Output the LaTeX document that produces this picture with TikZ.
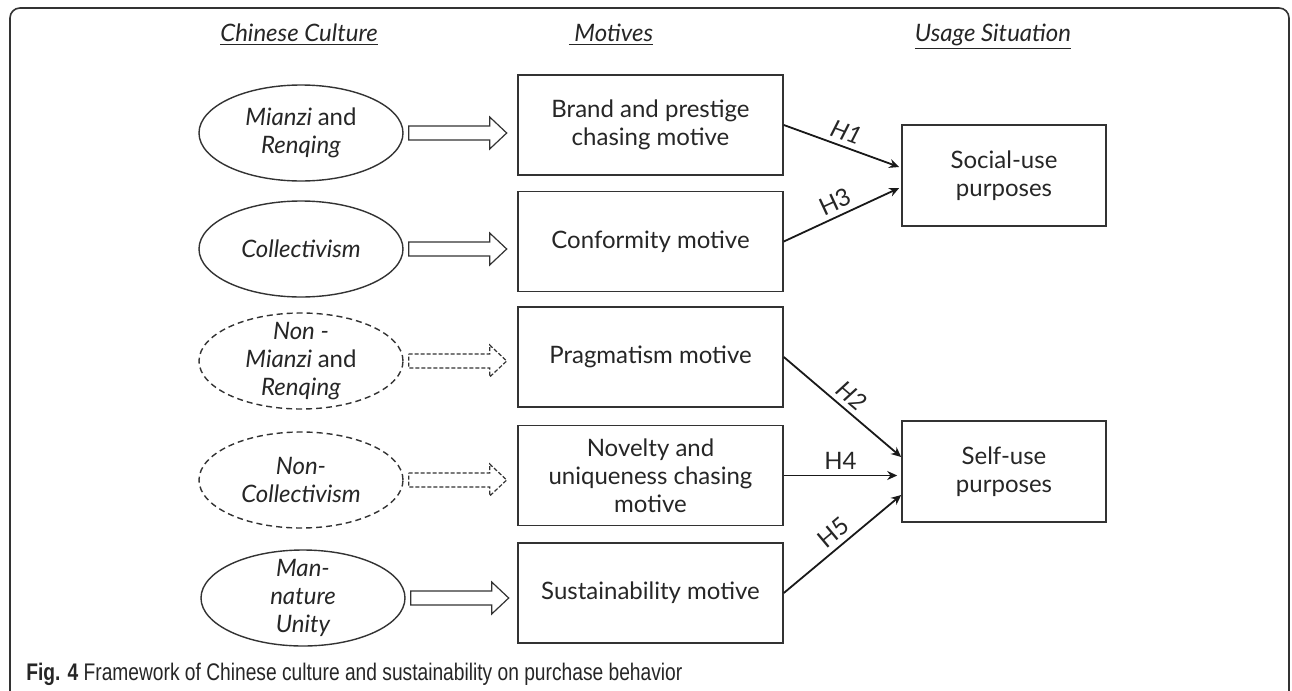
\documentclass[tikz,border=0pt]{standalone}
\usepackage{fontspec}
\setmainfont{Lato}
\newfontfamily\capfont[FakeStretch=0.8]{Liberation Sans}
\usetikzlibrary{arrows.meta,shapes.geometric,calc}

\begin{document}
\begin{tikzpicture}[x=0.5pt,y=-0.5pt,
	culture/.style={ellipse, draw=black!80, line width=0.7pt, minimum width=102pt, minimum height=48pt,
		inner xsep=0pt, inner ysep=-6pt, align=center, font=\fontsize{12}{14}\selectfont\itshape, text=black!85},
	nonculture/.style={culture, dash pattern=on 3pt off 2pt},
	motive/.style={rectangle, draw=black!80, line width=0.8pt, minimum width=132.5pt, minimum height=50pt,
		align=center, font=\fontsize{12}{14}\selectfont, text=black!85},
	usage/.style={motive, minimum width=102pt, minimum height=50.5pt},
	header/.style={anchor=base, font=\fontsize{12}{14}\selectfont\itshape, text=black!85},
	blockarrow/.style={draw=black!80, line width=0.6pt},
	hyp/.style={-{Stealth[length=5pt,width=4.5pt]}, line width=0.9pt, black!90},
	hlabel/.style={above=1.5pt, sloped, inner sep=1pt, font=\fontsize{12}{14}\selectfont, text=black!85}]
	% Page and frame
	\fill[white] (0,0) rectangle (1292,691);
	\useasboundingbox (0,0) rectangle (1292,691);
	\draw[black!80, line width=0.8pt, rounded corners=5pt] (10,8) rectangle (1289,730);
	% Column headers
	\node[header] (hculture) at (299,41) {\underline{Chinese Culture}};
	\node[header] (hmotive) at (611,41) {\underline{\ Motives}};
	\node[header] (husage) at (993,41) {\underline{Usage Situation}};
	% Chinese culture
	\node[culture] (c1) at (301,133) {Mianzi \textup{and}\\Renqing};
	\node[culture] (c2) at (301,249) {Collectivism};
	\node[nonculture] (c3) at (301,361) {Non -\\Mianzi \textup{and}\\Renqing};
	\node[nonculture] (c4) at (301,480) {Non-\\Collectivism};
	\node[culture] (c5) at (303,598) {Man-\\nature\\Unity};
	% Motives
	\node[motive] (m1) at (650.5,125) {Brand and prestige\\chasing motive};
	\node[motive] (m2) at (650.5,241.5) {Conformity motive};
	\node[motive] (m3) at (650.5,357) {Pragmatism motive};
	\node[motive] (m4) at (650.5,475.5) {Novelty and\\uniqueness chasing\\motive};
	\node[motive] (m5) at (650.5,593) {Sustainability motive};
	% Usage situation
	\node[usage] (u1) at (1004,175.5) {Social-use\\purposes};
	\node[usage] (u2) at (1004,471.5) {Self-use\\purposes};
	% Block arrows
	\foreach \i in {1,2,5}
		\draw[blockarrow] (c\i.east) ++(5,-7) -- ++(81,0) -- ++(0,-9) -- ++(17,16) -- ++(-17,16) -- ++(0,-9) -- ++(-81,0) -- cycle;
	\foreach \i in {3,4}
		\draw[blockarrow, dash pattern=on 2pt off 1pt] (c\i.east) ++(5,-7) -- ++(81,0) -- ++(0,-9) -- ++(17,16) -- ++(-17,16) -- ++(0,-9) -- ++(-81,0) -- cycle;
	% Hypotheses
	\draw[hyp] (m1.east) -- ($(u1.west)+(-2,-8.5)$) node[hlabel, midway] {\itshape H1};
	\draw[hyp] (m2.east) -- ($(u1.west)+(-2,12.5)$) node[hlabel, midway] {H3};
	\draw[hyp] (m3.east) -- ($(u2.west)+(0,-14.5)$) node[hlabel, midway] {\itshape H2};
	\draw[hyp] (m4.east) -- ($(m4.east -| u2.west)+(-4,0)$) node[hlabel, midway] {H4};
	\draw[hyp] (m5.east) -- ($(u2.west)+(0,23.5)$) node[hlabel, midway] {H5};
	% Caption
	\node[anchor=base west, font=\capfont\fontsize{12}{14}\selectfont, text=black!85, inner sep=0pt] (caption) at (26,680)
		{\textbf{Fig. 4} Framework of Chinese culture and sustainability on purchase behavior};
\end{tikzpicture}
\end{document}
